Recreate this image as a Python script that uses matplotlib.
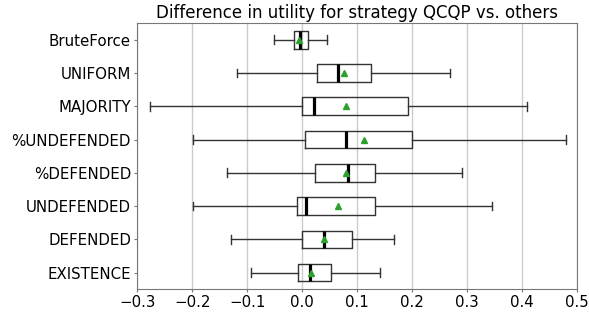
import matplotlib
matplotlib.use("Agg")
import matplotlib.pyplot as plt

# strategies, bottom to top
labels = ["EXISTENCE", "DEFENDED", "UNDEFENDED", "%DEFENDED",
          "%UNDEFENDED", "MAJORITY", "UNIFORM", "BruteForce"]
whislo = [-0.092, -0.130, -0.198, -0.136, -0.198, -0.276, -0.119, -0.051]
q1     = [-0.007,  0.000, -0.010,  0.024,  0.006,  0.000,  0.027, -0.014]
med    = [ 0.015,  0.040,  0.008,  0.083,  0.081,  0.021,  0.066, -0.003]
q3     = [ 0.053,  0.091,  0.133,  0.132,  0.200,  0.193,  0.125,  0.010]
whishi = [ 0.142,  0.168,  0.346,  0.291,  0.481,  0.410,  0.270,  0.045]
means  = [ 0.017,  0.040,  0.065,  0.080,  0.113,  0.080,  0.076, -0.006]

stats = []
for i in range(len(labels)):
  stats.append({"label": labels[i], "whislo": whislo[i], "q1": q1[i], "med": med[i],
                "q3": q3[i], "whishi": whishi[i], "mean": means[i], "fliers": []})

fig = plt.figure(figsize=(5.89, 3.13), dpi=100)
ax = fig.add_axes([0.233, 0.076, 0.746, 0.850])
ax.bxp(stats, vert=False, widths=0.53, showmeans=True,
       boxprops=dict(color="#333333", linewidth=1),
       whiskerprops=dict(color="#333333", linewidth=1),
       capprops=dict(color="#333333", linewidth=1),
       medianprops=dict(color="black", linewidth=2.3),
       meanprops=dict(marker="^", markerfacecolor="#2ca02c", markeredgecolor="#2ca02c", markersize=5))
ax.set_xlim(-0.3, 0.5)
ax.set_ylim(0.5, 8.5)
ax.xaxis.grid(True, color="#cccccc", linewidth=1)
ax.set_axisbelow(True)
for s in ax.spines.values():
  s.set_color("#777777")
ax.tick_params(labelsize=10.8, colors="#777777", labelcolor="black", length=2.5, pad=2)
ax.set_title("Difference in utility for strategy QCQP vs. others", fontsize=12, pad=4)
plt.savefig("out.png", dpi=100)
